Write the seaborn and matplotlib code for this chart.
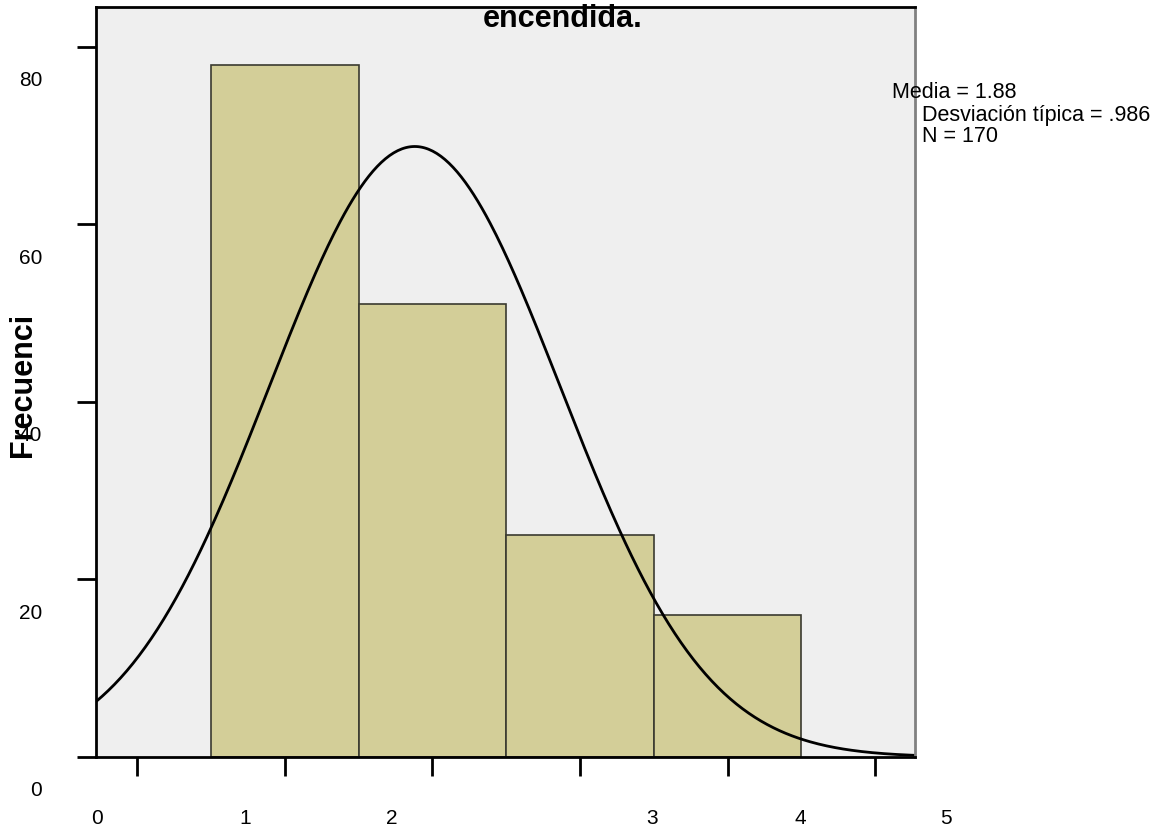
import numpy as np
import pandas as pd
import matplotlib
matplotlib.use('Agg')
import matplotlib.pyplot as plt
import seaborn as sns

valores = [1, 2, 3, 4]
frecuencias = [78, 51, 25, 16]
media = 1.88
desv = 0.986
n = 170
yticks = [0, 20, 40, 60, 80]
xticks = [0, 1, 2, 3, 4, 5]
titulo = 'encendida.'
ylabel = 'Frecuenci'
stats = ['Media = 1.88', 'Desviación típica = .986', 'N = 170']

plt.rcParams['font.family'] = ['Liberation Sans', 'DejaVu Sans']

df = pd.DataFrame({'valor': valores, 'frec': frecuencias})

fig = plt.figure(figsize=(11.62, 8.30), dpi=100)
ax = fig.add_axes([96/1162, 1-757/830, (915-96)/1162, (757-7)/830])
ax.set_facecolor('#efefef')

sns.histplot(data=df, x='valor', weights='frec', discrete=True,
             color='#d3ce98', edgecolor='#3a3a30', linewidth=1.2, alpha=1, ax=ax)

# curva normal ajustada
xmin, xmax = -0.28, 5.27
xs = np.linspace(xmin, xmax, 400)
ys = n * 1.0 / (desv * np.sqrt(2 * np.pi)) * np.exp(-0.5 * ((xs - media) / desv) ** 2)
sns.lineplot(x=xs, y=ys, color='black', linewidth=2, ax=ax)

ax.set_xlim(xmin, xmax)
ax.set_ylim(0, 84.5)
ax.set_xlabel('')
ax.set_ylabel('')
ax.set_xticks(xticks)
ax.set_yticks(yticks)
ax.tick_params(length=14, width=2, color='black', labelleft=False, labelbottom=False)

for s in ['left', 'top', 'bottom']:
    ax.spines[s].set_linewidth(2)
    ax.spines[s].set_color('black')
ax.spines['right'].set_linewidth(2)
ax.spines['right'].set_color('#808080')

# etiquetas desplazadas como en el original
for v in yticks:
    ax.annotate(str(v), xy=(0, v), xycoords=('axes fraction', 'data'),
                xytext=(-54, -34), textcoords='offset pixels',
                ha='right', va='center', fontsize=15)

x_offsets = [-40, -40, -41, 72, 73, 71]
for v, dx in zip(xticks, x_offsets):
    ax.annotate(str(v), xy=(v, 0), xycoords=('data', 'axes fraction'),
                xytext=(dx, -61), textcoords='offset pixels',
                ha='center', va='center', fontsize=15)

fig.text(563/1162, 1-27/830, titulo, ha='center', va='baseline',
         fontsize=22, fontweight='bold')
fig.text(23/1162, 1-385/830, ylabel, ha='center', va='center', rotation=90,
         fontsize=22, fontweight='bold')

fig.text(892/1162, 1-92/830, stats[0], ha='left', va='center', fontsize=15.5)
fig.text(922/1162, 1-115/830, stats[1], ha='left', va='center', fontsize=15.5)
fig.text(922/1162, 1-137/830, stats[2], ha='left', va='center', fontsize=15.5)

fig.savefig('out.png', dpi=100, facecolor='white')
